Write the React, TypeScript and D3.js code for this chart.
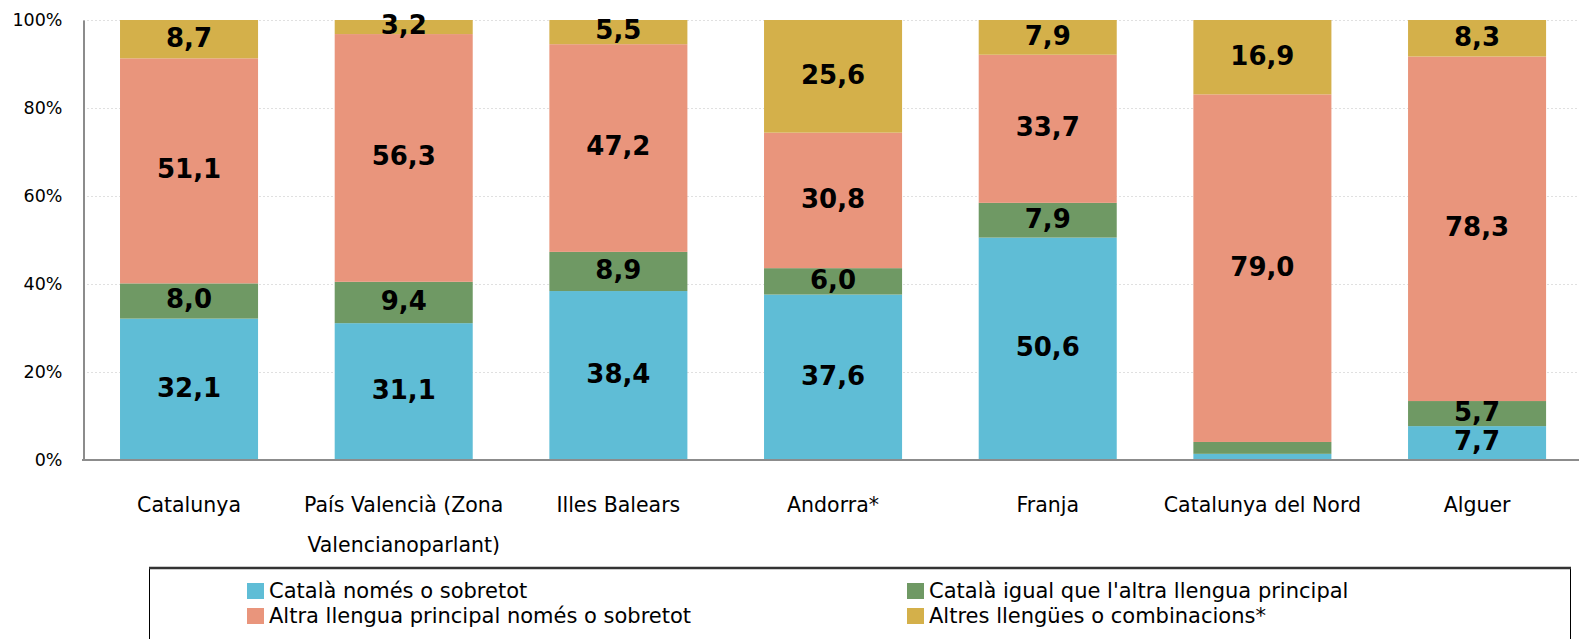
import { useEffect, useRef } from "react";
import * as d3 from "d3";

const categories = [
  ["Catalunya"],
  ["País Valencià (Zona", "Valencianoparlant)"],
  ["Illes Balears"],
  ["Andorra*"],
  ["Franja"],
  ["Catalunya del Nord"],
  ["Alguer"],
];
const catalaSobretot = [32.1, 31.1, 38.4, 37.6, 50.6, 1.4, 7.7];
const catalaIgual = [8.0, 9.4, 8.9, 6.0, 7.9, 2.7, 5.7];
const altraLlengua = [51.1, 56.3, 47.2, 30.8, 33.7, 79.0, 78.3];
const altres = [8.7, 3.2, 5.5, 25.6, 7.9, 16.9, 8.3];
// labels hidden where the segment is too thin
const showLabel = [
  [true, true, true, true, true, false, true],
  [true, true, true, true, true, false, true],
  [true, true, true, true, true, true, true],
  [true, true, true, true, true, true, true],
];
const seriesNames = [
  "Català només o sobretot",
  "Català igual que l'altra llengua principal",
  "Altra llengua principal només o sobretot",
  "Altres llengües o combinacions*",
];
const colors = ["#5fbdd6", "#6f9964", "#e9957c", "#d4b04a"];
const yTicks = [0, 20, 40, 60, 80, 100];

const W = 1579;
const H = 639;
const font = "'DejaVu Sans', Verdana, sans-serif";

export default function App() {
  const svgRef = useRef<SVGSVGElement>(null);

  useEffect(() => {
    const svg = d3.select(svgRef.current);
    svg.selectAll("*").remove();

    const keys = ["a", "b", "c", "d"];
    const rows = categories.map((c, i) => ({
      i,
      a: catalaSobretot[i],
      b: catalaIgual[i],
      c: altraLlengua[i],
      d: altres[i],
    }));
    const stacked = d3.stack<any>().keys(keys).offset(d3.stackOffsetExpand)(rows);

    const x = d3
      .scaleBand<number>()
      .domain(d3.range(categories.length))
      .range([81.7, 1584.4])
      .paddingInner(0.357)
      .paddingOuter(0.1785);
    const y = d3.scaleLinear().domain([0, 1]).range([460, 20]);

    // gridlines
    svg
      .append("g")
      .selectAll("line")
      .data(yTicks.slice(1))
      .join("line")
      .attr("x1", 83)
      .attr("x2", 1579)
      .attr("y1", (d) => y(d / 100) + 0.5)
      .attr("y2", (d) => y(d / 100) + 0.5)
      .attr("stroke", "#e0e0e0")
      .attr("stroke-dasharray", "2,2");

    svg
      .append("g")
      .selectAll("g")
      .data(stacked)
      .join("g")
      .attr("fill", (_, k) => colors[k])
      .selectAll("rect")
      .data((s) => s)
      .join("rect")
      .attr("x", (d: any) => x(d.data.i)!)
      .attr("width", x.bandwidth())
      .attr("y", (d) => y(d[1]))
      .attr("height", (d) => y(d[0]) - y(d[1]));

    // value labels
    const lbl = svg.append("g");
    stacked.forEach((s, k) => {
      s.forEach((d: any, i) => {
        if (!showLabel[k][i]) return;
        const v = [catalaSobretot, catalaIgual, altraLlengua, altres][k][i];
        lbl
          .append("text")
          .attr("x", x(i)! + x.bandwidth() / 2)
          .attr("y", (y(d[0]) + y(d[1])) / 2 - 2)
          .attr("dy", "0.36em")
          .attr("text-anchor", "middle")
          .attr("font-family", font)
          .attr("font-weight", "bold")
          .attr("font-size", 26)
          .attr("fill", "#000")
          .text(d3.format(".1f")(v).replace(".", ","));
      });
    });

    // axes
    const yAxis = svg
      .append("g")
      .attr("transform", "translate(83.5,0)")
      .call(
        d3
          .axisLeft(y)
          .tickValues(yTicks.map((t) => t / 100))
          .tickFormat((d) => `${Math.round(+d * 100)}%`)
          .tickSize(0)
          .tickPadding(21)
      );
    yAxis.select(".domain").attr("stroke", "#8c8c8c").attr("stroke-width", 2);
    yAxis
      .selectAll("text")
      .attr("font-family", font)
      .attr("font-size", 17.5)
      .attr("fill", "#000");

    svg
      .append("line")
      .attr("x1", 82)
      .attr("x2", 1579)
      .attr("y1", 460)
      .attr("y2", 460)
      .attr("stroke", "#8c8c8c")
      .attr("stroke-width", 2);

    // category labels
    const cat = svg.append("g");
    categories.forEach((lines, i) => {
      lines.forEach((t, j) => {
        cat
          .append("text")
          .attr("x", x(i)! + x.bandwidth() / 2)
          .attr("y", 512 + j * 40)
          .attr("text-anchor", "middle")
          .attr("font-family", font)
          .attr("font-size", 20.5)
          .attr("fill", "#000")
          .text(t);
      });
    });

    // legend
    const lg = svg.append("g");
    lg.append("rect")
      .attr("x", 149.5)
      .attr("y", 568)
      .attr("width", 1421)
      .attr("height", 80)
      .attr("fill", "#fff")
      .attr("stroke", "#000")
      .attr("stroke-width", 1);
    lg.append("line")
      .attr("x1", 149)
      .attr("x2", 1571)
      .attr("y1", 568)
      .attr("y2", 568)
      .attr("stroke", "#333")
      .attr("stroke-width", 2.5);
    const pos = [
      [247, 591],
      [907, 591],
      [247, 616],
      [907, 616],
    ];
    seriesNames.forEach((n, k) => {
      lg.append("rect")
        .attr("x", pos[k][0])
        .attr("y", pos[k][1] - 8)
        .attr("width", 17)
        .attr("height", 16)
        .attr("fill", colors[k]);
      lg.append("text")
        .attr("x", pos[k][0] + 22)
        .attr("y", pos[k][1] - 1)
        .attr("dy", "0.36em")
        .attr("font-family", font)
        .attr("font-size", 21)
        .attr("fill", "#000")
        .text(n);
    });
  }, []);

  return (
    <svg
      ref={svgRef}
      width={W}
      height={H}
      style={{ position: "absolute", left: 0, top: 0, background: "#fff" }}
    />
  );
}
